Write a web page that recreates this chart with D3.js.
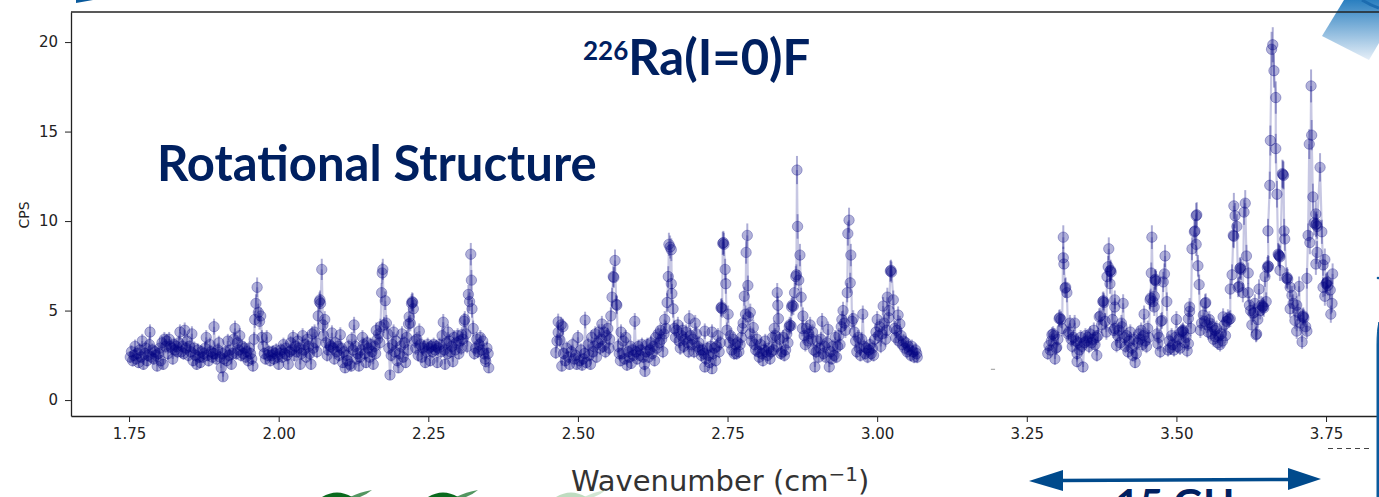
<!DOCTYPE html>
<html>
<head>
<meta charset="utf-8">
<script src="https://cdn.jsdelivr.net/npm/d3@7"></script>
<style>
html,body{margin:0;padding:0;background:#fff;overflow:hidden;}
svg{display:block;}
.tick text{font-family:"DejaVu Sans";font-size:15px;fill:#222;}
</style>
</head>
<body>
<svg id="chart" width="1379" height="497"></svg>
<script>
// Scan 1 [wavenumber, CPS]
const scanA = [[1.752,2.4],[1.754,2.7],[1.756,2.2],[1.758,2.5],[1.760,3.0],[1.762,2.3],[1.764,2.6],[1.766,2.1],[1.768,2.8],[1.770,2.4],[1.772,3.3],[1.774,2.0],[1.776,2.6],[1.778,2.9],[1.780,2.2],[1.782,2.5],[1.784,3.1],[1.785,3.8],[1.787,2.4],[1.789,2.8],[1.791,2.3],[1.793,2.7],[1.795,2.5],[1.797,1.9],[1.799,2.6],[1.801,2.9],[1.803,2.2],[1.805,3.2],[1.807,2.0],[1.809,3.4],[1.811,3.0],[1.813,3.3],[1.815,2.6],[1.817,3.4],[1.819,3.0],[1.821,2.9],[1.823,2.3],[1.825,3.1],[1.827,2.8],[1.829,3.0],[1.831,2.7],[1.833,3.2],[1.835,3.8],[1.837,2.7],[1.839,3.0],[1.841,2.6],[1.843,3.9],[1.845,2.9],[1.847,3.3],[1.849,2.5],[1.851,3.0],[1.853,2.7],[1.855,3.7],[1.857,2.2],[1.859,2.9],[1.861,2.5],[1.863,2.0],[1.865,2.8],[1.867,2.4],[1.869,2.1],[1.871,2.7],[1.873,2.4],[1.875,2.6],[1.877,2.9],[1.879,3.5],[1.881,2.5],[1.883,2.2],[1.885,3.1],[1.887,2.7],[1.889,2.4],[1.891,2.6],[1.892,4.1],[1.894,2.6],[1.896,2.3],[1.898,2.8],[1.900,3.2],[1.902,2.4],[1.904,1.8],[1.906,2.6],[1.907,1.3],[1.909,2.3],[1.911,2.7],[1.913,2.2],[1.915,3.3],[1.917,2.5],[1.919,2.8],[1.921,2.0],[1.923,2.6],[1.925,3.4],[1.927,4.0],[1.929,2.6],[1.931,3.2],[1.933,2.8],[1.935,3.6],[1.937,2.5],[1.939,3.0],[1.941,2.6],[1.943,2.9],[1.945,2.4],[1.947,2.7],[1.949,2.2],[1.951,2.9],[1.953,2.6],[1.955,2.3],[1.957,1.9],[1.959,3.4],[1.960,4.5],[1.962,5.4],[1.964,6.3],[1.966,4.9],[1.968,4.4],[1.970,4.7],[1.972,3.5],[1.974,3.0],[1.976,2.6],[1.978,2.3],[1.980,3.5],[1.982,2.5],[1.984,2.7],[1.986,2.2],[1.988,2.5],[1.990,2.7],[1.992,2.3],[1.994,2.6],[1.996,2.8],[1.998,2.4],[2.000,2.0],[2.002,2.6],[2.004,2.8],[2.006,2.4],[2.008,3.1],[2.010,2.6],[2.012,2.9],[2.014,2.5],[2.016,2.0],[2.018,2.7],[2.020,3.2],[2.022,2.8],[2.024,3.5],[2.026,2.5],[2.028,3.0],[2.030,2.7],[2.032,3.3],[2.034,2.9],[2.036,2.0],[2.038,2.6],[2.040,3.6],[2.042,2.8],[2.044,3.1],[2.046,2.4],[2.048,3.4],[2.050,3.0],[2.052,2.6],[2.054,2.0],[2.056,3.7],[2.058,2.9],[2.060,3.8],[2.062,3.2],[2.064,2.7],[2.066,4.7],[2.068,5.5],[2.069,5.6],[2.070,5.4],[2.072,7.3],[2.074,4.2],[2.075,3.6],[2.077,4.5],[2.079,3.2],[2.081,2.5],[2.083,2.8],[2.085,3.1],[2.087,3.0],[2.089,3.75],[2.091,2.9],[2.093,2.3],[2.095,3.2],[2.097,2.7],[2.099,3.0],[2.101,2.5],[2.103,3.65],[2.105,2.9],[2.107,2.1],[2.109,2.7],[2.111,1.8],[2.113,2.5],[2.115,2.2],[2.117,3.0],[2.119,2.0],[2.121,1.9],[2.122,3.4],[2.124,2.8],[2.126,4.2],[2.128,3.0],[2.130,2.3],[2.132,2.6],[2.134,1.9],[2.136,2.4],[2.138,2.8],[2.140,3.5],[2.142,3.1],[2.144,2.6],[2.146,2.1],[2.148,3.2],[2.150,2.9],[2.152,2.4],[2.154,3.1],[2.156,2.7],[2.158,2.0],[2.160,3.0],[2.162,2.6],[2.163,3.9],[2.165,3.4],[2.167,3.7],[2.169,3.2],[2.170,4.1],[2.172,6.0],[2.173,7.1],[2.174,7.3],[2.176,4.2],[2.178,5.55],[2.180,4.3],[2.182,3.7],[2.184,2.9],[2.186,1.4],[2.188,2.5],[2.190,3.1],[2.192,3.8],[2.194,2.7],[2.196,3.3],[2.198,2.2],[2.200,1.8],[2.202,2.6],[2.204,3.0],[2.206,3.7],[2.208,2.4],[2.210,3.2],[2.212,2.1],[2.214,3.5],[2.216,2.8],[2.217,4.25],[2.218,4.65],[2.220,4.3],[2.222,5.4],[2.223,5.5],[2.224,5.45],[2.225,5.1],[2.227,3.3],[2.229,2.9],[2.231,3.4],[2.233,2.5],[2.235,3.85],[2.237,3.1],[2.239,2.4],[2.241,2.9],[2.243,3.0],[2.245,2.1],[2.247,2.7],[2.249,3.1],[2.251,2.9],[2.253,2.2],[2.255,3.0],[2.257,2.7],[2.259,3.1],[2.261,2.8],[2.263,3.0],[2.265,2.1],[2.267,2.9],[2.269,3.1],[2.271,2.7],[2.273,3.6],[2.275,4.35],[2.277,2.8],[2.278,2.0],[2.280,3.2],[2.282,2.6],[2.283,3.8],[2.285,3.3],[2.287,2.7],[2.289,3.0],[2.291,2.15],[2.293,3.5],[2.295,2.8],[2.297,3.2],[2.299,3.6],[2.301,2.6],[2.303,3.3],[2.305,2.9],[2.306,3.65],[2.308,3.4],[2.310,4.4],[2.311,4.5],[2.313,3.7],[2.315,3.0],[2.317,5.9],[2.319,5.5],[2.321,8.15],[2.322,6.7],[2.323,5.1],[2.325,4.0],[2.327,2.6],[2.329,2.9],[2.331,3.4],[2.333,2.7],[2.335,3.1],[2.337,3.5],[2.339,2.8],[2.341,3.3],[2.343,2.6],[2.345,2.3],[2.346,2.15],[2.348,2.9],[2.350,2.6],[2.351,1.8]];
// Scan 2
const scanB = [[2.463,2.65],[2.465,3.3],[2.467,4.37],[2.467,3.78],[2.470,3.35],[2.472,4.2],[2.473,1.9],[2.475,4.1],[2.476,2.6],[2.479,2.2],[2.481,2.9],[2.484,2.4],[2.486,2.0],[2.489,2.7],[2.491,3.1],[2.494,2.3],[2.496,2.5],[2.498,2.0],[2.500,3.5],[2.503,2.2],[2.505,2.8],[2.507,1.95],[2.509,2.3],[2.511,2.6],[2.512,4.47],[2.514,2.1],[2.517,3.1],[2.519,2.5],[2.521,2.0],[2.523,3.5],[2.525,2.7],[2.527,3.0],[2.529,3.7],[2.531,2.4],[2.533,3.2],[2.535,3.8],[2.537,2.9],[2.539,3.4],[2.540,4.25],[2.542,3.0],[2.544,3.8],[2.546,2.7],[2.548,3.6],[2.550,4.0],[2.552,2.9],[2.553,3.4],[2.555,4.7],[2.557,5.75],[2.559,6.9],[2.560,6.85],[2.562,7.8],[2.564,5.35],[2.565,5.3],[2.567,3.0],[2.569,2.6],[2.571,2.2],[2.572,3.8],[2.574,2.6],[2.576,3.3],[2.578,2.3],[2.580,3.5],[2.582,1.95],[2.584,2.7],[2.586,2.4],[2.588,3.0],[2.589,2.05],[2.591,2.8],[2.593,2.5],[2.595,4.4],[2.597,2.7],[2.599,2.3],[2.601,3.0],[2.603,2.5],[2.605,2.8],[2.607,3.1],[2.609,2.4],[2.611,2.0],[2.612,1.6],[2.614,2.7],[2.616,3.1],[2.618,2.4],[2.620,2.8],[2.622,3.2],[2.624,2.6],[2.626,3.0],[2.628,2.2],[2.630,3.5],[2.632,2.9],[2.634,3.7],[2.636,3.2],[2.638,3.9],[2.640,3.4],[2.642,2.7],[2.644,3.7],[2.645,4.5],[2.647,4.0],[2.649,5.45],[2.651,6.9],[2.652,8.7],[2.654,8.55],[2.656,6.5],[2.656,8.4],[2.657,5.95],[2.659,5.1],[2.661,4.0],[2.663,3.5],[2.665,3.9],[2.667,4.2],[2.669,3.3],[2.671,2.9],[2.673,3.6],[2.675,3.9],[2.677,3.0],[2.679,3.4],[2.681,3.8],[2.683,3.2],[2.685,2.7],[2.686,4.55],[2.688,3.6],[2.690,3.1],[2.692,3.4],[2.694,2.7],[2.696,4.3],[2.698,3.7],[2.700,3.0],[2.702,3.2],[2.704,2.8],[2.706,2.5],[2.708,2.8],[2.710,2.6],[2.712,3.85],[2.712,1.85],[2.714,2.3],[2.716,2.9],[2.718,2.5],[2.720,2.1],[2.722,3.0],[2.724,3.8],[2.724,1.75],[2.726,2.6],[2.728,2.9],[2.730,2.2],[2.732,3.0],[2.734,3.6],[2.736,2.7],[2.738,3.2],[2.739,5.15],[2.740,5.2],[2.741,5.1],[2.742,8.75],[2.743,8.8],[2.744,8.7],[2.746,7.3],[2.747,6.5],[2.749,3.9],[2.751,4.8],[2.753,3.2],[2.755,3.6],[2.757,2.8],[2.759,3.4],[2.761,2.6],[2.763,3.1],[2.765,2.6],[2.767,3.2],[2.769,2.7],[2.771,3.1],[2.773,3.5],[2.775,4.0],[2.776,4.3],[2.778,5.8],[2.780,4.8],[2.781,8.25],[2.783,9.2],[2.784,6.4],[2.785,4.65],[2.788,4.9],[2.788,3.7],[2.790,3.3],[2.793,4.05],[2.795,3.1],[2.797,2.8],[2.799,3.4],[2.801,2.7],[2.803,2.4],[2.805,3.1],[2.807,2.6],[2.809,2.2],[2.811,2.8],[2.813,3.3],[2.815,2.7],[2.817,2.5],[2.819,2.9],[2.821,2.3],[2.823,2.7],[2.825,3.5],[2.827,2.8],[2.828,4.0],[2.830,3.6],[2.832,3.0],[2.833,6.0],[2.834,5.3],[2.835,4.55],[2.837,3.4],[2.839,2.6],[2.841,2.7],[2.843,3.5],[2.845,2.5],[2.847,2.8],[2.849,3.7],[2.851,3.2],[2.853,4.1],[2.854,4.2],[2.856,4.15],[2.857,5.2],[2.858,5.3],[2.860,5.25],[2.862,6.0],[2.864,6.9],[2.865,7.0],[2.866,12.85],[2.867,9.7],[2.869,6.7],[2.871,8.1],[2.873,5.75],[2.875,4.0],[2.876,4.7],[2.878,3.6],[2.880,3.1],[2.882,4.0],[2.884,3.3],[2.886,3.7],[2.888,4.2],[2.890,3.4],[2.892,3.8],[2.894,2.8],[2.896,1.85],[2.898,2.7],[2.900,3.3],[2.902,2.4],[2.904,2.9],[2.906,3.4],[2.908,4.4],[2.910,2.6],[2.912,3.0],[2.914,2.4],[2.916,3.2],[2.918,3.95],[2.920,1.85],[2.922,2.7],[2.924,2.3],[2.926,3.0],[2.928,2.5],[2.930,3.5],[2.932,2.4],[2.934,3.0],[2.936,3.6],[2.938,3.1],[2.940,4.1],[2.941,4.5],[2.943,5.0],[2.945,4.3],[2.947,3.9],[2.950,6.0],[2.951,9.3],[2.953,10.05],[2.955,6.55],[2.956,8.1],[2.958,4.4],[2.960,4.55],[2.962,3.8],[2.964,3.3],[2.966,2.7],[2.968,3.5],[2.970,2.9],[2.972,2.5],[2.974,3.4],[2.976,4.8],[2.978,3.0],[2.980,2.6],[2.982,2.9],[2.984,2.4],[2.986,2.8],[2.988,3.1],[2.990,2.6],[2.992,2.9],[2.994,2.5],[2.996,3.4],[2.998,3.8],[3.000,4.5],[3.002,3.6],[3.004,4.1],[3.006,3.0],[3.008,3.7],[3.010,5.25],[3.012,4.3],[3.014,3.4],[3.016,3.9],[3.017,5.75],[3.019,4.6],[3.020,5.0],[3.022,7.2],[3.023,7.25],[3.024,7.15],[3.027,5.6],[3.029,4.0],[3.031,3.5],[3.033,3.9],[3.035,4.75],[3.036,3.3],[3.038,4.25],[3.040,3.6],[3.042,3.1],[3.044,3.3],[3.046,2.9],[3.048,3.2],[3.050,2.7],[3.052,3.0],[3.054,2.8],[3.056,2.5],[3.058,3.0],[3.060,2.7],[3.062,2.4],[3.064,2.8],[3.066,2.6],[3.067,2.4]];
// Scan 3
const scanC = [[3.285,2.6],[3.287,3.05],[3.289,2.8],[3.291,3.3],[3.292,3.65],[3.294,3.7],[3.296,3.6],[3.297,2.3],[3.299,2.9],[3.300,2.95],[3.302,3.4],[3.304,4.55],[3.305,4.6],[3.307,4.5],[3.309,4.0],[3.311,9.1],[3.311,7.95],[3.312,7.6],[3.314,6.25],[3.315,6.3],[3.317,6.0],[3.319,3.7],[3.320,3.8],[3.322,4.3],[3.324,3.4],[3.326,3.0],[3.328,3.5],[3.330,4.3],[3.332,3.3],[3.334,2.15],[3.334,2.6],[3.336,3.2],[3.338,2.8],[3.340,3.5],[3.342,3.0],[3.344,1.85],[3.346,3.2],[3.348,3.6],[3.350,3.3],[3.352,3.5],[3.354,3.0],[3.356,3.7],[3.358,3.2],[3.360,3.4],[3.362,3.9],[3.364,3.1],[3.366,3.5],[3.367,2.5],[3.369,3.6],[3.371,4.65],[3.373,4.7],[3.375,4.2],[3.377,5.5],[3.378,5.55],[3.379,5.45],[3.381,4.4],[3.383,3.8],[3.384,6.9],[3.386,7.45],[3.387,8.45],[3.389,7.2],[3.389,6.5],[3.390,7.25],[3.391,7.15],[3.393,4.5],[3.395,3.9],[3.397,5.6],[3.397,5.2],[3.397,4.0],[3.400,3.05],[3.402,3.6],[3.404,3.9],[3.406,3.2],[3.408,4.3],[3.409,4.1],[3.411,5.4],[3.413,3.5],[3.415,3.0],[3.417,3.6],[3.419,2.7],[3.421,3.3],[3.423,3.8],[3.425,2.9],[3.427,2.5],[3.429,3.4],[3.431,2.1],[3.433,2.6],[3.435,3.2],[3.437,3.7],[3.439,3.4],[3.441,3.9],[3.443,3.1],[3.445,3.6],[3.446,4.8],[3.448,3.3],[3.450,3.0],[3.452,4.0],[3.454,3.5],[3.456,5.6],[3.457,5.7],[3.458,7.1],[3.459,9.1],[3.461,5.5],[3.463,5.8],[3.463,5.2],[3.464,6.7],[3.465,6.75],[3.466,6.65],[3.468,3.7],[3.469,3.15],[3.471,3.5],[3.473,2.7],[3.474,4.4],[3.476,4.45],[3.478,6.6],[3.480,7.05],[3.481,8.05],[3.484,5.5],[3.486,2.8],[3.488,3.3],[3.490,2.9],[3.492,3.6],[3.494,3.1],[3.496,2.8],[3.498,3.5],[3.500,4.5],[3.502,3.0],[3.504,3.4],[3.506,2.9],[3.508,3.8],[3.510,3.85],[3.511,3.9],[3.512,3.8],[3.514,3.2],[3.516,3.5],[3.518,2.75],[3.520,3.15],[3.520,4.55],[3.522,5.2],[3.522,4.95],[3.524,4.0],[3.526,8.45],[3.530,9.4],[3.531,9.45],[3.533,10.3],[3.534,10.35],[3.533,8.7],[3.536,7.5],[3.538,6.45],[3.540,3.9],[3.542,4.3],[3.545,4.75],[3.547,4.4],[3.548,5.4],[3.549,5.45],[3.551,4.2],[3.553,3.8],[3.555,4.5],[3.556,4.3],[3.558,3.7],[3.560,4.1],[3.562,3.4],[3.564,3.9],[3.565,3.55],[3.567,4.0],[3.569,3.2],[3.571,3.6],[3.573,3.1],[3.575,3.7],[3.577,3.3],[3.578,4.65],[3.580,4.2],[3.582,3.6],[3.584,4.4],[3.586,4.6],[3.588,4.5],[3.590,4.55],[3.590,6.2],[3.593,7.0],[3.595,9.2],[3.596,9.15],[3.596,10.85],[3.598,10.3],[3.601,9.7],[3.603,6.3],[3.605,6.35],[3.606,7.35],[3.607,7.4],[3.608,7.3],[3.611,6.0],[3.613,10.5],[3.615,11.0],[3.617,8.05],[3.620,7.1],[3.620,6.0],[3.622,5.3],[3.624,5.0],[3.626,4.2],[3.628,4.85],[3.630,4.9],[3.631,5.4],[3.633,3.65],[3.634,3.7],[3.636,4.5],[3.638,6.2],[3.640,5.0],[3.642,5.3],[3.644,5.2],[3.645,5.25],[3.646,5.15],[3.648,6.9],[3.650,5.5],[3.652,7.4],[3.653,7.5],[3.654,7.45],[3.653,9.45],[3.656,12.0],[3.657,14.5],[3.659,19.6],[3.661,19.85],[3.663,18.4],[3.666,16.9],[3.666,14.05],[3.668,11.5],[3.670,8.15],[3.671,8.1],[3.672,8.05],[3.673,8.0],[3.673,7.25],[3.677,12.65],[3.678,12.6],[3.679,12.55],[3.680,9.45],[3.681,9.0],[3.684,6.8],[3.685,6.85],[3.686,6.75],[3.690,6.3],[3.690,5.1],[3.693,5.85],[3.695,5.4],[3.698,4.45],[3.701,5.3],[3.701,3.85],[3.703,4.9],[3.705,6.35],[3.707,4.3],[3.710,3.25],[3.711,4.65],[3.712,4.7],[3.713,4.6],[3.716,4.1],[3.718,3.85],[3.718,6.8],[3.720,9.2],[3.722,14.3],[3.723,8.8],[3.725,17.55],[3.726,14.8],[3.728,11.35],[3.730,9.9],[3.733,10.4],[3.733,9.8],[3.734,9.85],[3.733,7.6],[3.735,8.25],[3.735,9.7],[3.740,13.0],[3.743,9.4],[3.745,7.55],[3.745,6.3],[3.748,7.85],[3.748,5.8],[3.750,6.5],[3.751,6.55],[3.752,6.6],[3.753,6.4],[3.757,6.15],[3.758,4.8],[3.760,5.4],[3.761,7.05]];
const xTicks = [1.75,2.00,2.25,2.50,2.75,3.00,3.25,3.50,3.75];
const yTicks = [0,5,10,15,20];
const errScale = 0.22;

const svg = d3.select("#chart");
const x = d3.scaleLinear().domain([1.653,3.8385]).range([71,1379]);
const y = d3.scaleLinear().domain([-0.89,21.68]).range([416,12]);

const defs = svg.append("defs");
const grad = defs.append("linearGradient").attr("id","corner").attr("x1",0).attr("y1",0).attr("x2",0).attr("y2",1);
grad.append("stop").attr("offset",0).attr("stop-color","#2a7fc0");
grad.append("stop").attr("offset",1).attr("stop-color","#e6eff8");

// Corner decoration behind the frame
svg.append("polygon").attr("points","1344,0 1379,0 1379,43 1369,60 1322,36").attr("fill","url(#corner)");
svg.append("path").attr("d","M1362,0 Q1370,5 1379,8").attr("fill","none").attr("stroke","#1c6cb0").attr("stroke-width",3);
svg.append("polygon").attr("points","76,3 93,0 76,0").attr("fill","#0a5a9c");

// Data marks
const marks = svg.append("g").style("filter","blur(0.6px)");
const traceLine = d3.line().x(d=>x(d[0])).y(d=>y(d[1]));
marks.selectAll("path.trace").data([scanA,scanB,scanC]).join("path").attr("class","trace")
  .attr("d",traceLine).attr("fill","none").attr("stroke","#000080").attr("stroke-opacity",0.22).attr("stroke-width",2.2);
const allPoints = [...scanA, ...scanB, ...scanC];
marks.selectAll("line.err").data(allPoints).join("line").attr("class","err")
  .attr("x1",d=>x(d[0])).attr("x2",d=>x(d[0]))
  .attr("y1",d=>y(d[1]+errScale*Math.sqrt(d[1]))).attr("y2",d=>y(d[1]-errScale*Math.sqrt(d[1])))
  .attr("stroke","#000080").attr("stroke-opacity",0.32).attr("stroke-width",2);
marks.selectAll("circle").data(allPoints).join("circle")
  .attr("cx",d=>x(d[0])).attr("cy",d=>y(d[1])).attr("r",5.2)
  .attr("fill","#000080").attr("fill-opacity",0.3)
  .attr("stroke","#000080").attr("stroke-opacity",0.3).attr("stroke-width",1);
svg.append("line").attr("x1",x(3.19)).attr("x2",x(3.197)).attr("y1",y(1.72)).attr("y2",y(1.72)).attr("stroke","#999").attr("stroke-width",1);

// Axes
const gx = svg.append("g").attr("transform","translate(0,416)").call(d3.axisBottom(x).tickValues(xTicks).tickFormat(d3.format(".2f")).tickSize(6).tickSizeOuter(0).tickPadding(6));
const gy = svg.append("g").attr("transform","translate(71,0)").call(d3.axisLeft(y).tickValues(yTicks).tickSize(6).tickSizeOuter(0).tickPadding(7));
[gx,gy].forEach(g=>{g.selectAll(".domain").attr("stroke","#222").attr("stroke-width",1.3);g.selectAll(".tick line").attr("stroke","#222").attr("stroke-width",1);});
svg.append("line").attr("x1",71).attr("x2",1379).attr("y1",12).attr("y2",12).attr("stroke","#222").attr("stroke-width",1.3);

svg.append("text").attr("transform","translate(29,215) rotate(-90)").attr("text-anchor","middle")
  .attr("font-family","DejaVu Sans").attr("font-size",14).attr("fill","#222").text("CPS");

const xl = svg.append("text").attr("x",571).attr("y",491).attr("font-family","DejaVu Sans").attr("font-size",29).attr("fill","#333");
xl.append("tspan").text("Wavenumber (cm");
xl.append("tspan").attr("dy",-10).attr("font-size",20).text("\u22121");
xl.append("tspan").attr("dy",10).text(")");

// Overlaid slide annotations
const t1 = svg.append("text").attr("x",583).attr("y",75).attr("font-family","Lato").attr("font-weight",700).attr("fill","#002060");
t1.append("tspan").attr("font-size",26).attr("dy",-15).text("226");
t1.append("tspan").attr("font-size",49).attr("dy",15).text("Ra(I=0)F");
svg.append("text").attr("x",157).attr("y",181).attr("font-family","Lato").attr("font-weight",700).attr("font-size",49).attr("fill","#002060").text("Rotational Structure");

// 15 GHz span arrow
svg.append("line").attr("x1",1060).attr("x2",1292).attr("y1",480.5).attr("y2",479.5).attr("stroke","#004a8c").attr("stroke-width",3.5);
svg.append("polygon").attr("points","1029,481 1063,470 1063,491").attr("fill","#004a8c");
svg.append("polygon").attr("points","1321,479 1288,468 1288,490").attr("fill","#004a8c");
svg.append("text").attr("x",1092).attr("y",518).attr("font-family","Lato").attr("font-weight",700).attr("font-size",41).attr("fill","#002060").text("\u224815 GHz");

// Bottom-right clipped offset label
svg.append("line").attr("x1",1328).attr("x2",1370).attr("y1",448.5).attr("y2",448.5).attr("stroke","#444").attr("stroke-width",1).attr("stroke-dasharray","5 4");

// Right-hand panel edge
svg.append("path").attr("d","M1379,322 Q1377,330 1377,345 L1377,497 L1379,497 Z").attr("fill","#0a5a9c").attr("stroke","#0a5a9c").attr("stroke-width",1);
svg.append("circle").attr("cx",1378).attr("cy",278).attr("r",1.3).attr("fill","#0a5a9c");

// Green leaves clipped at the bottom
const leaves = svg.append("g");
[[322,"#0a6a1e"],[428,"#0a6a1e"],[556,"#bfdcc0"]].forEach(([lx,c])=>{
  leaves.append("path").attr("d",`M${lx},497 Q${lx+15},488 ${lx+30},497 Z`).attr("fill",c);
  leaves.append("path").attr("d",`M${lx+28},497 Q${lx+38},492 ${lx+50},490 Q${lx+44},495 ${lx+38},497 Z`).attr("fill",c).attr("opacity",0.7);
});
</script>
</body>
</html>
